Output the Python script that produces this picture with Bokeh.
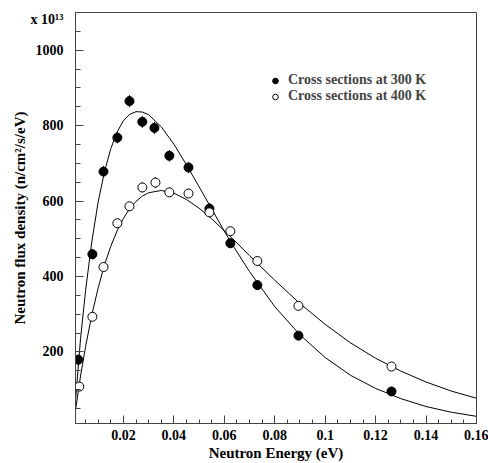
from bokeh.plotting import figure
from bokeh.models import FixedTicker, Legend, LegendItem, BoxAnnotation
from bokeh.embed import file_html
from bokeh.resources import INLINE

# ---- data ----
e_300 = [0.0021, 0.0077, 0.0121, 0.0176, 0.0224, 0.0275, 0.0323, 0.0382, 0.0458,
         0.0541, 0.0624, 0.0731, 0.0894, 0.1263]
flux_300 = [179, 459, 678, 768, 865, 810, 794, 720, 689, 580, 488, 377, 243, 95]
err_300 = [14, 14, 15, 15, 16, 16, 16, 15, 15, 14, 13, 12, 10, 8]

e_400 = [0.0025, 0.0077, 0.0121, 0.0176, 0.0224, 0.0275, 0.0327, 0.0382, 0.0458,
         0.0541, 0.0624, 0.0731, 0.0894, 0.1263]
flux_400 = [108, 293, 425, 541, 586, 636, 649, 623, 620, 570, 520, 441, 322, 161]
err_400 = [8, 10, 11, 12, 12, 13, 14, 12, 12, 11, 10, 9, 8, 7]

fit_e = [0.001, 0.003, 0.005, 0.0075, 0.01, 0.0125, 0.015, 0.0175, 0.02, 0.0225,
         0.025, 0.0275, 0.03, 0.035, 0.04, 0.045, 0.05, 0.055, 0.06, 0.065, 0.07,
         0.08, 0.09, 0.10, 0.11, 0.12, 0.13, 0.14, 0.15, 0.16]
fit_300 = [70, 235, 363, 494, 598, 678, 739, 783, 813, 830, 837, 836, 829, 797, 751,
           696, 638, 579, 520, 465, 413, 320, 245, 185, 138, 103, 76, 55, 40, 29]
fit_400 = [45, 136, 214, 299, 370, 431, 480, 521, 554, 580, 599, 613, 622, 628, 621,
           604, 581, 553, 521, 489, 455, 390, 328, 273, 224, 183, 149, 120, 96, 77]

x_major = [0.02, 0.04, 0.06, 0.08, 0.1, 0.12, 0.14, 0.16]
x_labels = ["0.02", "0.04", "0.06", "0.08", "0.1", "0.12", "0.14", "0.16"]
y_major = [200, 400, 600, 800, 1000]
y_labels = ["200", "400", "600", "800", "1000"]
scale_label = "x 10\u00b9\u00b3"
scale_pos = 1082

FONT = "Liberation Serif"

p = figure(width=488, height=463, output_backend="svg", toolbar_location=None,
           x_range=(0.001, 0.16), y_range=(10, 1100),
           min_border_left=75, min_border_right=12, min_border_top=12,
           min_border_bottom=38)
p.grid.visible = False
p.outline_line_color = "#444444"
p.outline_line_width = 1

p.xaxis.ticker = FixedTicker(ticks=x_major,
                             minor_ticks=[round(0.005 * i, 3) for i in range(1, 33)])
p.yaxis.ticker = FixedTicker(ticks=y_major + [scale_pos],
                             minor_ticks=list(range(50, 1100, 50)))
p.xaxis.major_label_overrides = {v: s for v, s in zip(x_major, x_labels)}
y_over = {v: s for v, s in zip(y_major, y_labels)}
y_over[scale_pos] = scale_label
p.yaxis.major_label_overrides = y_over

for ax in (p.xaxis[0], p.yaxis[0]):
    ax.axis_line_color = "#444444"
    ax.major_tick_line_color = "#444444"
    ax.minor_tick_line_color = "#444444"
    ax.major_tick_out = 0
    ax.minor_tick_out = 0
    ax.major_label_text_font = FONT
    ax.major_label_text_font_style = "bold"
    ax.major_label_text_font_size = "14px"
    ax.major_label_text_color = "black"
    ax.axis_label_text_font = FONT
    ax.axis_label_text_font_style = "bold"
    ax.axis_label_text_font_size = "15px"
    ax.axis_label_text_color = "black"

p.yaxis.major_tick_in = 8
p.yaxis.minor_tick_in = 5
p.xaxis.major_tick_in = 8
p.xaxis.minor_tick_in = 4
p.yaxis.major_label_standoff = 12
p.xaxis.major_label_standoff = 6
p.yaxis.axis_label = "Neutron flux density (n/cm\u00b2/s/eV)"
p.xaxis.axis_label = "Neutron Energy (eV)"
p.yaxis.axis_label_standoff = 0
p.xaxis.axis_label_standoff = 2

# hide the tick mark that only carries the "x 10^13" scale label
p.add_layout(BoxAnnotation(left=0.00118, right=0.0050, bottom=scale_pos - 4,
                           top=scale_pos + 4, fill_color="white", fill_alpha=1,
                           line_color=None, level="overlay"))

p.line(fit_e, fit_300, line_color="black", line_width=1)
p.line(fit_e, fit_400, line_color="black", line_width=1)

p.segment(x0=e_300, x1=e_300, y0=[v - e for v, e in zip(flux_300, err_300)],
          y1=[v + e for v, e in zip(flux_300, err_300)], line_color="black", line_width=1)
p.segment(x0=e_400, x1=e_400, y0=[v - e for v, e in zip(flux_400, err_400)],
          y1=[v + e for v, e in zip(flux_400, err_400)], line_color="black", line_width=1)

r300 = p.scatter(e_300, flux_300, marker="circle", size=9, fill_color="black",
                 line_color="black")
r400 = p.scatter(e_400, flux_400, marker="circle", size=9, fill_color="white",
                 line_color="black", line_width=1)

legend = Legend(items=[LegendItem(label="Cross sections at 300 K", renderers=[r300]),
                       LegendItem(label="Cross sections at 400 K", renderers=[r400])],
                location=(193, 319), border_line_color=None, background_fill_alpha=0,
                label_text_font=FONT, label_text_font_style="bold",
                label_text_font_size="14px", padding=0, spacing=0, margin=0,
                label_height=15, glyph_height=15, glyph_width=14, label_standoff=6)
p.add_layout(legend, "center")

open("out.html", "w").write(file_html(p, INLINE))
